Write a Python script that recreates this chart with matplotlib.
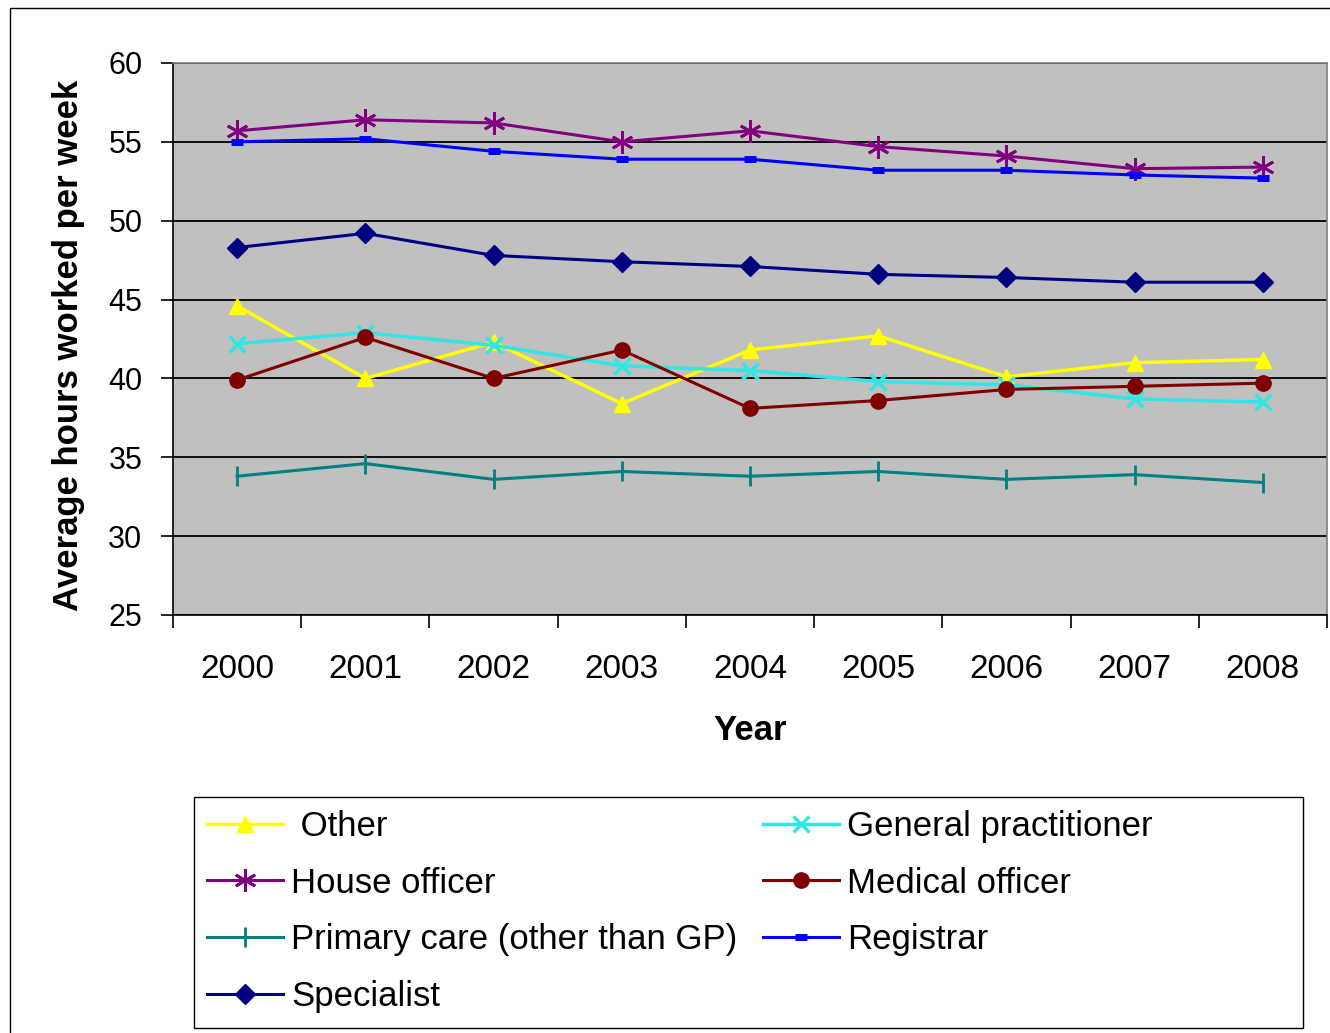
import matplotlib
matplotlib.use("Agg")
import matplotlib.pyplot as plt
from matplotlib.patches import Rectangle
import numpy as np

plt.rcParams['font.family'] = ['Liberation Sans', 'DejaVu Sans']

years = ['2000', '2001', '2002', '2003', '2004', '2005', '2006', '2007', '2008']

other = [44.6, 40.0, 42.3, 38.4, 41.8, 42.7, 40.1, 41.0, 41.2]
general_practitioner = [42.2, 42.9, 42.1, 40.8, 40.5, 39.8, 39.6, 38.7, 38.5]
house_officer = [55.7, 56.4, 56.2, 55.0, 55.7, 54.7, 54.1, 53.3, 53.4]
medical_officer = [39.9, 42.6, 40.0, 41.8, 38.1, 38.6, 39.3, 39.5, 39.7]
primary_care = [33.8, 34.6, 33.6, 34.1, 33.8, 34.1, 33.6, 33.9, 33.4]
registrar = [55.0, 55.2, 54.4, 53.9, 53.9, 53.2, 53.2, 52.9, 52.7]
specialist = [48.3, 49.2, 47.8, 47.4, 47.1, 46.6, 46.4, 46.1, 46.1]

y_ticks = [25, 30, 35, 40, 45, 50, 55, 60]

W, H = 1330, 1033
fig = plt.figure(figsize=(W / 100, H / 100), dpi=100)
ax = fig.add_axes([173 / W, 1 - 615 / H, 1154 / W, 552 / H])
ax.set_facecolor('#C0C0C0')

x = np.arange(len(years))

series = {
    ' Other': dict(data=other, color='#FFFF00', marker='^', ms=12, mew=1, lw=2.5),
    'House officer': dict(data=house_officer, color='#800080', marker=(6, 2, 0), ms=16, mew=2, lw=2.2),
    'Primary care (other than GP)': dict(data=primary_care, color='#008080', marker='|', ms=15, mew=2, lw=2.2),
    'Specialist': dict(data=specialist, color='#000080', marker='D', ms=10, mew=1, lw=2.2),
    'General practitioner': dict(data=general_practitioner, color='#33E6E6', marker='x', ms=12, mew=2.5, lw=2.5),
    'Medical officer': dict(data=medical_officer, color='#800000', marker='o', ms=11, mew=1, lw=2.2),
    'Registrar': dict(data=registrar, color='#0000FF', marker='_', ms=9, mew=5, lw=2.2),
}

handles = []
for name, s in series.items():
    h, = ax.plot(x, s['data'], color=s['color'], marker=s['marker'],
                 markersize=s['ms'], markeredgewidth=s['mew'],
                 markeredgecolor=s['color'], markerfacecolor=s['color'],
                 linewidth=s['lw'], label=name, zorder=3)
    handles.append(h)

ax.set_xlim(-0.5, len(years) - 0.5)
ax.set_ylim(25, 60)
ax.set_yticks(y_ticks)
ax.set_yticklabels([str(v) for v in y_ticks])
ax.yaxis.grid(True, color='black', linewidth=1.3, zorder=1)
ax.set_axisbelow(True)

ax.set_xticks(x)
ax.set_xticklabels(years)
ax.set_xticks(np.arange(-0.5, len(years), 1.0), minor=True)
ax.tick_params(axis='x', which='major', length=0, pad=28, labelsize=24)
ax.tick_params(axis='x', which='minor', length=9, width=1.2, direction='out')
ax.tick_params(axis='y', which='major', length=9, width=1.2, labelsize=22, pad=13)

for side in ('left', 'bottom'):
    ax.spines[side].set_color('black')
    ax.spines[side].set_linewidth(1.2)
for side in ('top', 'right'):
    ax.spines[side].set_color('#808080')
    ax.spines[side].set_linewidth(1.2)

ax.set_xlabel('Year', fontsize=25, fontweight='bold')
ax.xaxis.set_label_coords(0.5, -0.180)
ax.set_ylabel('Average hours worked per week', fontsize=25, fontweight='bold')
ax.yaxis.set_label_coords(-0.076, 0.488)

leg = fig.legend(handles=handles, labels=[h.get_label() for h in handles],
                 ncol=2, loc='upper left',
                 bbox_to_anchor=(207 / W, 1 - 810 / H),
                 fontsize=25, frameon=False,
                 handlelength=2.2, handletextpad=0.23, labelspacing=0.68,
                 borderaxespad=0.0, borderpad=0.0, columnspacing=0.73)

# legend box
fig.patches.append(Rectangle((194 / W, 1 - 1028 / H), (1303 - 194) / W, (1028 - 797) / H,
                             transform=fig.transFigure, fill=False,
                             edgecolor='black', linewidth=1.0))
# outer border
fig.patches.append(Rectangle((10 / W, -0.05), 1.1, 1 - 8 / H + 0.05,
                             transform=fig.transFigure, fill=False,
                             edgecolor='black', linewidth=1.0))

fig.savefig('out.png', dpi=100)
